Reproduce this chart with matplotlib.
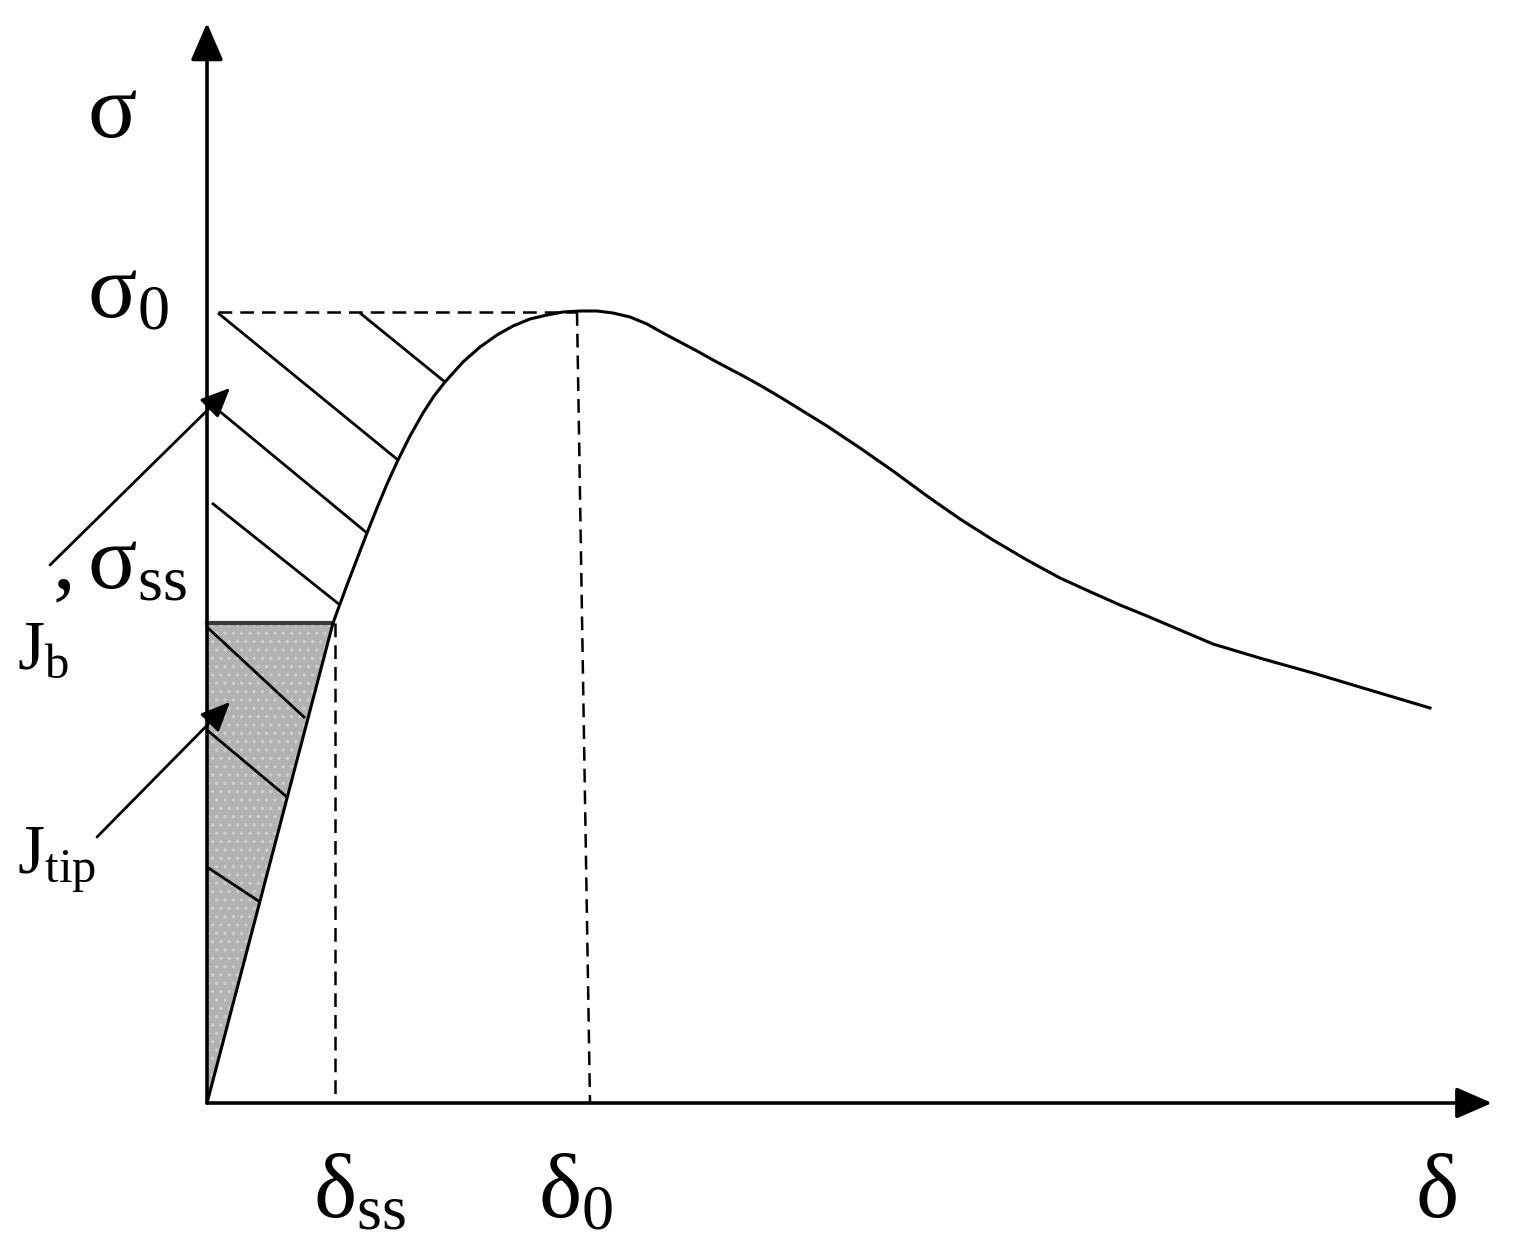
import matplotlib
matplotlib.use("Agg")
import matplotlib.pyplot as plt
from matplotlib.patches import Polygon

plt.rcParams['font.family'] = ['Liberation Serif', 'DejaVu Serif']
plt.rcParams['mathtext.fontset'] = 'custom'
plt.rcParams['mathtext.rm'] = 'Liberation Serif'
plt.rcParams['mathtext.it'] = 'Liberation Serif'
plt.rcParams['hatch.linewidth'] = 1.2

# traction-separation curve (origin at axes corner)
delta_pts = [0, 126, 133, 140, 150, 160, 170, 180, 191, 203, 216, 227, 238,
             256, 273, 290, 306, 323, 340, 356, 373, 390, 406, 423, 440, 456,
             473, 490, 506, 523, 540, 556, 573, 586, 620, 653, 686, 720, 753,
             786, 820, 853, 886, 913, 940, 973, 1006, 1056, 1106, 1156, 1223]
sigma_pts = [0, 480, 499, 518, 544, 570, 595, 619, 643, 667, 690, 707, 721,
             741, 756, 768, 777, 784, 788, 791, 792, 792, 790, 786, 779, 770,
             761, 752, 743, 734, 725, 716, 706, 698, 677, 655, 632, 607, 584,
             563, 543, 525, 510, 498, 487, 473, 459, 444, 430, 415, 395]

delta_ss = 126
sigma_ss = 480
sigma_0 = 791
delta_0_top = 370
delta_0_bottom = 383
x_end = 1285
y_end = 1080

# hatch segments (x0, y0, x1, y1)
hatch_upper = [(11, 790, 191, 643), (153, 790, 238, 721),
               (5, 698, 160, 570), (5, 600, 133, 498)]
hatch_lower = [(1, 475, 98, 385), (0, 373, 80, 306), (0, 236, 53, 201)]

fig = plt.figure(figsize=(15.16, 12.43), dpi=100)
ax = fig.add_axes([0, 0, 1, 1])
ax.set_xlim(-207, 1309)
ax.set_ylim(-140, 1103)
ax.axis('off')

# shaded triangle (J_tip area) with a light stipple
tri_pts = [(0, 0), (0, sigma_ss), (delta_ss, sigma_ss)]
ax.add_patch(Polygon(tri_pts, closed=True, facecolor='#b2b2b2',
                     edgecolor='none', zorder=1))
ax.add_patch(Polygon(tri_pts, closed=True, facecolor='none', hatch='..',
                     edgecolor='#cdcdcd', lw=0, zorder=1.5))
ax.plot([0, delta_ss], [sigma_ss, sigma_ss], color='#3a3a3a', lw=3, zorder=2)

for x0, y0, x1, y1 in hatch_upper + hatch_lower:
    ax.plot([x0, x1], [y0, y1], color='k', lw=2.0, solid_capstyle='butt', zorder=3)

# main curve
ax.plot(delta_pts, sigma_pts, color='k', lw=2.2, zorder=4,
        solid_joinstyle='round')

# dashed guides
dash = (5.5, 3.2)
ax.plot([11, delta_0_top], [sigma_0, sigma_0], color='k', lw=1.8,
        dashes=dash, zorder=3)
ax.plot([delta_0_top, delta_0_bottom], [sigma_0, 0], color='k', lw=1.8,
        dashes=dash, zorder=3)
ax.plot([delta_ss + 2, delta_ss + 2], [sigma_ss, 0], color='k', lw=1.8,
        dashes=dash, zorder=3)

# axes with arrow heads
ax.annotate('', xy=(0, y_end), xytext=(0, 0),
            arrowprops=dict(arrowstyle='-|>,head_length=1.15,head_width=0.5',
                            mutation_scale=20, lw=2.6, color='k',
                            shrinkA=0, shrinkB=0), zorder=5)
ax.annotate('', xy=(x_end, 0), xytext=(0, 0),
            arrowprops=dict(arrowstyle='-|>,head_length=1.1,head_width=0.48',
                            mutation_scale=20, lw=2.6, color='k',
                            shrinkA=0, shrinkB=0), zorder=5)

# pointer arrows
ax.annotate('', xy=(23, 715), xytext=(-157, 538),
            arrowprops=dict(arrowstyle='-|>,head_length=0.9,head_width=0.4',
                            mutation_scale=20, lw=2.0, color='k',
                            shrinkA=0, shrinkB=0), zorder=6)
ax.annotate('', xy=(23, 401), xytext=(-110, 266),
            arrowprops=dict(arrowstyle='-|>,head_length=0.9,head_width=0.4',
                            mutation_scale=20, lw=2.0, color='k',
                            shrinkA=0, shrinkB=0), zorder=6)

# labels
big = 66
small = 50
ax.text(-120, 966, r'$\mathrm{σ}$', fontsize=big, ha='left', va='baseline')
ax.text(-120, 786, r'$\mathrm{σ}_\mathrm{0}$', fontsize=big, ha='left', va='baseline')
ax.text(-155, 515, r'$\mathrm{,}$', fontsize=big, ha='left', va='baseline')
ax.text(-120, 515, r'$\mathrm{σ}_\mathrm{ss}$', fontsize=big, ha='left', va='baseline')
ax.text(-190, 435, r'$\mathrm{J}_\mathrm{b}$', fontsize=small, ha='left', va='baseline')
ax.text(-190, 230, r'$\mathrm{J}_\mathrm{tip}$', fontsize=small, ha='left', va='baseline')
ax.text(106, -114, r'$\mathrm{δ}_\mathrm{ss}$', fontsize=big, ha='left', va='baseline')
ax.text(331, -114, r'$\mathrm{δ}_\mathrm{0}$', fontsize=big, ha='left', va='baseline')
ax.text(1208, -114, r'$\mathrm{δ}$', fontsize=big, ha='left', va='baseline')

fig.savefig('out.png', dpi=100, facecolor='white')
